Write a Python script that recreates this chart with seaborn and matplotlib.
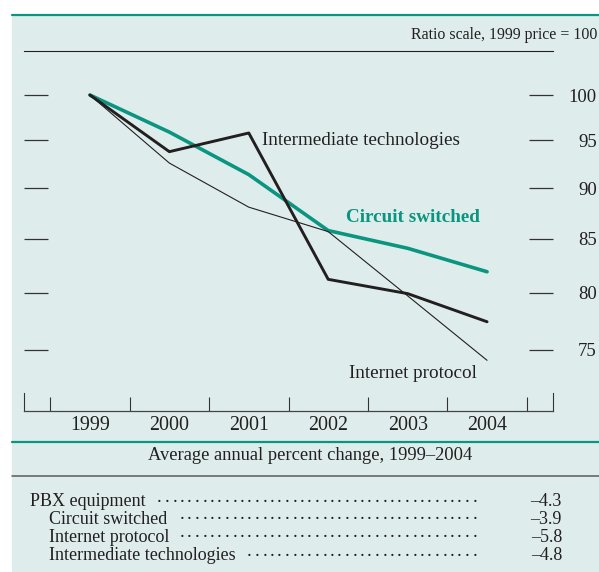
import numpy as np
import pandas as pd
import matplotlib
matplotlib.use("Agg")
import matplotlib.pyplot as plt
import seaborn as sns
from matplotlib.ticker import NullLocator, FixedFormatter, FixedLocator

## Data
years = [1999, 2000, 2001, 2002, 2003, 2004]
circuit_switched = [100, 95.9, 91.4, 85.8, 84.1, 81.9]
internet_protocol = [100, 92.6, 88.1, 85.7, 79.7, 74.1]
intermediate_tech = [100, 93.8, 95.8, 81.2, 79.9, 77.4]

y_ticks = [75, 80, 85, 90, 95, 100]
table_labels = ["PBX equipment", "Circuit switched", "Internet protocol", "Intermediate technologies"]
table_indent = [0, 1, 1, 1]
table_values = ["\u20134.3", "\u20133.9", "\u20135.8", "\u20134.8"]

TEAL = "#0a9580"
BG = "#deedec"
INK = "#231f20"

df = pd.DataFrame({
    "year": years * 3,
    "index": circuit_switched + internet_protocol + intermediate_tech,
    "series": ["Circuit switched"] * 6 + ["Internet protocol"] * 6 + ["Intermediate technologies"] * 6,
})

sns.set_style("white")
plt.rcParams["font.family"] = ["Liberation Serif", "DejaVu Serif"]

W, H = 599, 572
fig = plt.figure(figsize=(W / 100, H / 100), dpi=100)
fig.patch.set_facecolor("white")

# overlay in pixel coords for panel and table
deco = fig.add_axes([0, 0, 1, 1], zorder=0)
deco.set_xlim(0, W)
deco.set_ylim(H, 0)
deco.axis("off")
deco.add_patch(plt.Rectangle((12, 15), W - 12, 556, color=BG, zorder=0))
deco.plot([12, W], [14.5, 14.5], color=TEAL, lw=1.6)
deco.plot([12, W], [442, 442], color=TEAL, lw=1.6)
deco.plot([12, W], [476, 476], color="#5a5a5a", lw=1.1)
deco.text(597, 35, "Ratio scale, 1999 price = 100", ha="right", va="center", fontsize=11.4, color=INK)
deco.text(310, 456, "Average annual percent change, 1999\u20132004", ha="center", va="center",
          fontsize=13.3, color=INK)

## Chart
ax = fig.add_axes([24 / W, 1 - 410.7 / H, 529 / W, 359.7 / H], zorder=1)
ax.patch.set_alpha(0)
sns.lineplot(data=df, x="year", y="index", hue="series", size="series",
             palette={"Circuit switched": TEAL, "Internet protocol": INK, "Intermediate technologies": INK},
             sizes={"Circuit switched": 2.6, "Internet protocol": 0.8, "Intermediate technologies": 2.1},
             legend=False, ax=ax)
ax.set_yscale("log")
ax.set_ylim(70, 105.1)
ax.set_xlim(1998.17, 2004.83)

ax.yaxis.set_major_locator(FixedLocator(y_ticks))
ax.yaxis.set_major_formatter(FixedFormatter([str(t) for t in y_ticks]))
ax.yaxis.set_minor_locator(NullLocator())
ax.set_xticks(years)
ax.set_xticklabels([str(y) for y in years])
ax.set_xticks([y + 0.5 for y in [1998] + years], minor=True)
ax.set_xlabel("")
ax.set_ylabel("")

ax.tick_params(axis="y", which="major", direction="in", length=17.3, width=0.9, color="#333333",
               left=True, right=True, labelleft=False, labelright=True, pad=31.5,
               labelsize=13.5, labelcolor=INK)
for lab in ax.get_yticklabels():
    lab.set_ha("right")
ax.tick_params(axis="x", which="major", length=0, pad=4, labelsize=14.4, labelcolor=INK)
ax.tick_params(axis="x", which="minor", direction="in", length=10, width=0.8, color="#333333", bottom=True)

for side in ["left", "right"]:
    ax.spines[side].set_visible(True)
    ax.spines[side].set_bounds(70, 71.45)
    ax.spines[side].set_color("#333333")
    ax.spines[side].set_linewidth(0.8)
ax.spines["bottom"].set_color("#444444")
ax.spines["bottom"].set_linewidth(0.9)
ax.spines["top"].set_color(INK)
ax.spines["top"].set_linewidth(0.8)

ax.text(2001.17, 95.0, "Intermediate technologies", ha="left", va="center", fontsize=13.8, color=INK)
ax.text(2003.07, 87.1, "Circuit switched", ha="center", va="center", fontsize=13.8,
        fontweight="bold", color=TEAL)
ax.text(2003.07, 73.0, "Internet protocol", ha="center", va="center", fontsize=13.8, color=INK)

## Table with dot leaders
row_y = [501.7, 519.3, 537.3, 555.7]
fig.canvas.draw()
renderer = fig.canvas.get_renderer()
dot_end = 477
dot_step = 7.5
for lab, ind, val, y in zip(table_labels, table_indent, table_values, row_y):
    t = deco.text(30 + 19 * ind, y, lab, ha="left", va="center", fontsize=13, color=INK)
    deco.text(562, y, val, ha="right", va="center", fontsize=13, color=INK)
    x1 = t.get_window_extent(renderer).x1
    n = int((dot_end - x1 - 3) / dot_step)
    xs = dot_end - dot_step * np.arange(n)
    for xd in xs:
        deco.text(xd, y + 4, ".", ha="right", va="bottom", fontsize=13.5, color=INK)

fig.savefig("out.png", dpi=100)
